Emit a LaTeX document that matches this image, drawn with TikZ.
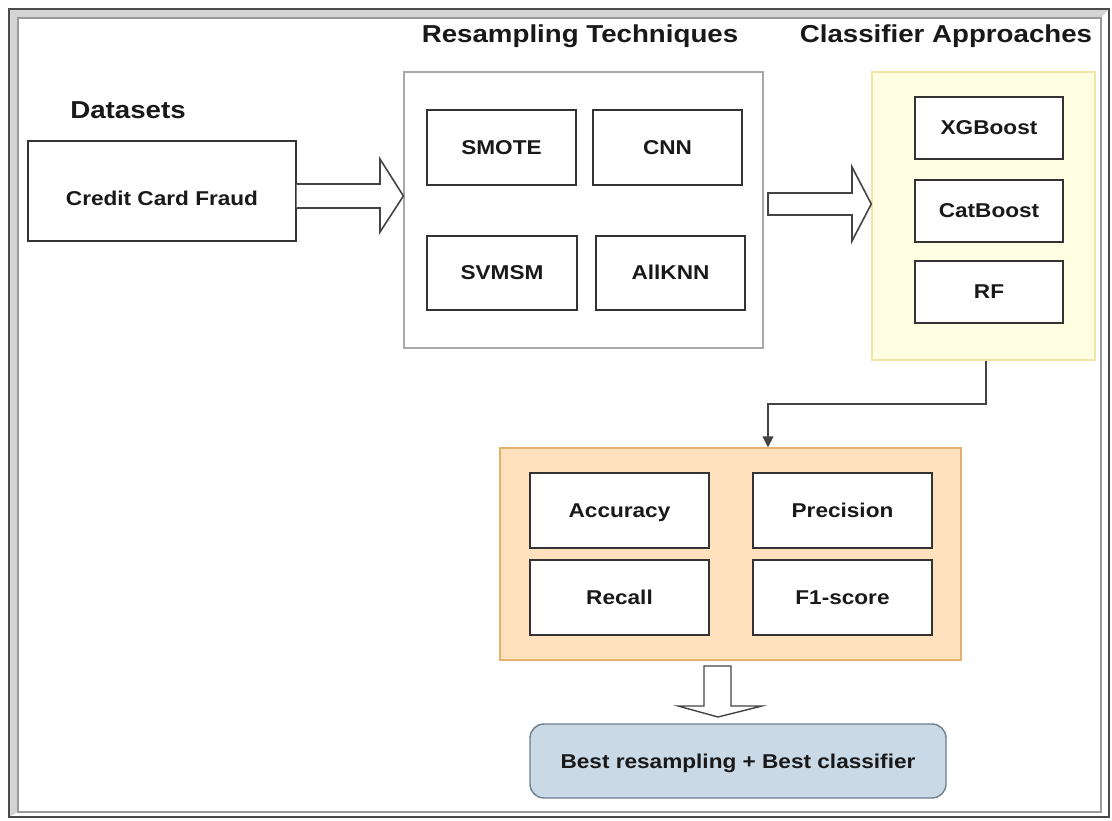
\documentclass[tikz,border=0pt]{standalone}
\usepackage{fontspec}
\setmainfont{Liberation Sans}
\newfontfamily\widesans[FakeStretch=1.13]{Liberation Sans}
\usetikzlibrary{calc,arrows.meta}
\definecolor{frameouter}{HTML}{4A4A4A}
\definecolor{frameinner}{HTML}{9A9A9A}
\definecolor{bevel}{HTML}{D4D4D4}
\definecolor{boxline}{HTML}{333333}
\definecolor{groupgray}{HTML}{A8A8A8}
\definecolor{clsfill}{HTML}{FFFDE2}
\definecolor{clsline}{HTML}{F2E6A6}
\definecolor{metfill}{HTML}{FFE2BD}
\definecolor{metline}{HTML}{E3B26E}
\definecolor{bestfill}{HTML}{C9D9E6}
\definecolor{bestline}{HTML}{6D7E8C}
\definecolor{arrowline}{HTML}{444444}
\tikzset{
  titletext/.style={font=\widesans\fontsize{24.5}{28}\selectfont\bfseries, text=black!90, inner sep=0pt},
  labeltext/.style={font=\widesans\fontsize{20}{24}\selectfont\bfseries, text=black!90, text height=14pt, text depth=0pt},
  itembox/.style={labeltext, draw=boxline, line width=1.4pt, fill=white, inner sep=0pt},
  groupbox/.style={inner sep=0pt},
  blockarrow/.style={draw=arrowline, line width=1.6pt, fill=white, line join=miter},
}
\begin{document}
\begin{tikzpicture}[x=1pt,y=-1pt]
\useasboundingbox (0,0) rectangle (1112,821);
\fill[white] (0,0) rectangle (1112,821);

% window-style inset frame
\fill[bevel] (9,9) -- (1109,9) -- (1101,18) -- (18,18) -- (18,812) -- (9,817) -- cycle;
\draw[frameinner, line width=1.4pt] (18,812) -- (18,18) -- (1101,18) -- (1101,812) -- cycle;
\draw[frameouter, line width=2pt] (9,9) rectangle (1109,817);

% section titles
\node[titletext] (tds) at (128,110) {Datasets};
\node[titletext] (trs) at (580,36) {Resampling Techniques};
\node[titletext] (tcl) at (946,36) {Classifier Approaches};

% dataset (label sits a little below the box centre)
\node[itembox, text height=30pt, minimum width=268pt, minimum height=100pt] (ccf) at (162,191) {Credit Card Fraud};

% resampling group
\node[groupbox, draw=groupgray, line width=1.2pt, fill=white, minimum width=359pt, minimum height=276pt] (rs) at (583.5,210) {};
\node[itembox, minimum width=149pt, minimum height=75pt] (smote) at (501.5,147.5) {SMOTE};
\node[itembox, minimum width=149pt, minimum height=75pt] (cnn) at (667.5,147.5) {CNN};
\node[itembox, minimum width=150pt, minimum height=74pt] (svmsm) at (502,273) {SVMSM};
\node[itembox, minimum width=149pt, minimum height=74pt] (allknn) at (670.5,273) {AllKNN};

% classifier group
\node[groupbox, draw=clsline, line width=1.4pt, fill=clsfill, minimum width=223pt, minimum height=288pt] (cls) at (983.5,216) {};
\node[itembox, minimum width=148pt, minimum height=62pt] (xgb) at (989,128) {XGBoost};
\node[itembox, minimum width=148pt, minimum height=62pt] (cat) at (989,211) {CatBoost};
\node[itembox, minimum width=148pt, minimum height=62pt] (rf) at (989,292) {RF};

% metrics group
\node[groupbox, draw=metline, line width=1.4pt, fill=metfill, minimum width=461pt, minimum height=212pt] (met) at (730.5,554) {};
\node[itembox, minimum width=179pt, minimum height=75pt] (acc) at (619.5,510.5) {Accuracy};
\node[itembox, minimum width=179pt, minimum height=75pt] (prec) at (842.5,510.5) {Precision};
\node[itembox, minimum width=179pt, minimum height=75pt] (rec) at (619.5,597.5) {Recall};
\node[itembox, minimum width=179pt, minimum height=75pt] (f1) at (842.5,597.5) {F1-score};

% final result
\node[labeltext, draw=bestline, line width=1.4pt, fill=bestfill, rounded corners=14pt, minimum width=416pt, minimum height=74pt, inner sep=0pt] (best) at (738,761) {Best resampling + Best classifier};

% block arrow: dataset -> resampling
\draw[blockarrow] (ccf.east |- 0,184) -- (380,184) -- (380,159) -- (rs.west |- 0,196) -- (380,232) -- (380,208) -- (ccf.east |- 0,208);

% block arrow: resampling -> classifiers
\draw[blockarrow] (768,193) -- (852,193) -- (852,167) -- (cls.west |- 0,204) -- (852,241) -- (852,215) -- (768,215) -- cycle;

% connector: classifiers -> metrics
\coordinate (metin) at (met.north -| 768,0);
\draw[arrowline, line width=1.5pt, -{Triangle[length=11pt,width=11pt]}] (cls.south -| 986,0) -- (986,404) -| (metin);

% block arrow: metrics -> final result
\draw[blockarrow, line width=1.4pt] (704,666) -- (731,666) -- (731,706) -- (762,706) -- (718,717) -- (678,706) -- (704,706) -- cycle;
\end{tikzpicture}
\end{document}
